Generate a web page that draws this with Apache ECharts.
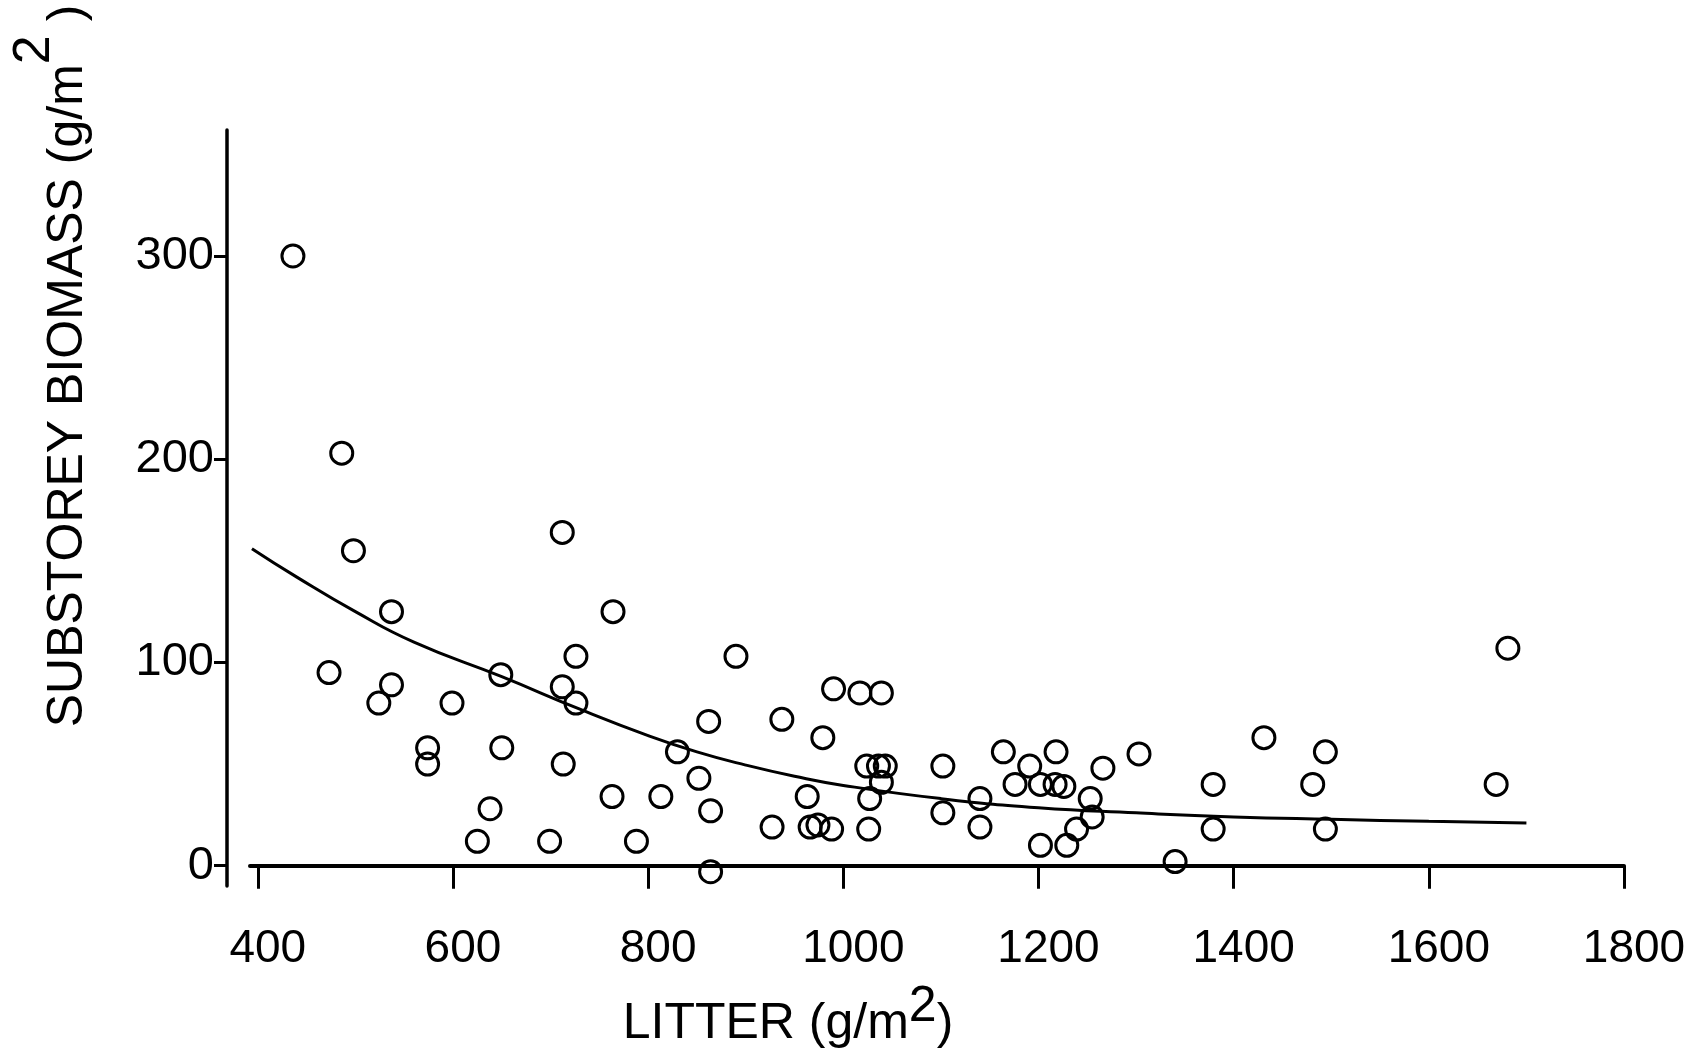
<!DOCTYPE html>
<html>
<head>
<meta charset="utf-8">
<title>Litter vs substorey biomass</title>
<script src="https://cdn.jsdelivr.net/npm/echarts/dist/echarts.min.js"></script>
<style>
  html, body { margin: 0; padding: 0; background: #fff; }
  #chart { width: 1692px; height: 1060px; }
</style>
</head>
<body>
<div id="chart"></div>
<script>
// litter (g/m2) and substorey biomass (g/m2)
const litter = [
  436, 486, 498, 712, 537, 764, 726, 473, 649, 537, 712, 890, 524, 599, 726,
  862, 830, 574, 574, 650, 713, 852, 763, 813, 864, 638, 625, 699, 788, 864,
  990, 1017, 1039, 937, 979, 1024, 1036, 1043, 1039, 1027, 963, 927, 966, 974,
  988, 1026, 1102, 1102, 1140, 1140, 1164, 1191, 1176, 1202, 1217, 1226, 1218,
  1266, 1303, 1253, 1255, 1239, 1202, 1229, 1340, 1379, 1379, 1431, 1494, 1481,
  1494, 1681, 1669
]
const biomass = [
  300, 203, 155, 164, 125, 125, 103, 95, 94, 89, 88, 103, 80, 80, 80,
  71, 56, 58, 50, 58, 50, 43, 34, 34, 27, 28, 12, 12, 12, -3,
  87, 85, 85, 72, 63, 49, 49, 49, 41, 33, 34, 19, 19, 20,
  18, 18, 49, 26, 33, 19, 56, 49, 40, 40, 40, 39, 56,
  48, 55, 33, 24, 18, 10, 10, 2, 40, 18, 63, 56, 40,
  18, 107, 40
]

// fitted curve
const fitLitter = [394, 440, 500, 560, 650, 730, 800, 850, 900, 950, 1000, 1100, 1200, 1300, 1400, 1500, 1600, 1700]
const fitBiomass = [156, 142, 125, 110, 93, 77, 64, 56, 49.5, 44, 39.5, 33, 28.5, 26, 24, 22.8, 21.8, 21]

const xTicks = [400, 600, 800, 1000, 1200, 1400, 1600, 1800]
const yTicks = [0, 100, 200, 300]

const font = 'Liberation Sans, Arial, sans-serif'

const chart = echarts.init(document.getElementById('chart'), null, { renderer: 'canvas' })

chart.setOption({
  backgroundColor: '#fff',
  animation: false,
  grid: {
    left: 250,
    right: 68,
    top: 130,
    bottom: 174
  },
  xAxis: {
    type: 'value',
    min: 392,
    max: 1800,
    axisLine: { lineStyle: { color: '#000', width: 4 } },
    axisTick: {
      customValues: xTicks,
      length: 23,
      lineStyle: { color: '#000', width: 3 }
    },
    axisLabel: {
      customValues: xTicks,
      formatter: (v) => String(v),
      margin: 40,
      padding: [0, 0, 0, 20],
      color: '#000',
      fontSize: 46,
      fontFamily: font
    },
    splitLine: { show: false }
  },
  yAxis: {
    type: 'value',
    min: -10,
    max: 362,
    offset: 23,
    axisLine: { show: true, lineStyle: { color: '#000', width: 3.5 } },
    axisTick: {
      show: true,
      customValues: yTicks,
      length: 13,
      lineStyle: { color: '#000', width: 3 }
    },
    axisLabel: {
      customValues: yTicks,
      formatter: (v) => String(v),
      margin: 13,
      color: '#000',
      fontSize: 47,
      fontFamily: font
    },
    splitLine: { show: false }
  },
  graphic: [
    {
      type: 'text',
      x: 68,
      y: 366,
      rotation: Math.PI / 2,
      silent: true,
      style: {
        text: 'SUBSTOREY BIOMASS (g/m{sup|2} )',
        fontSize: 50,
        fontFamily: font,
        fill: '#000',
        textAlign: 'center',
        textVerticalAlign: 'middle',
        rich: {
          sup: { fontSize: 52, fontFamily: font, fill: '#000', padding: [0, 0, 66, 0] }
        }
      }
    },
    {
      type: 'text',
      x: 788,
      y: 1024,
      silent: true,
      style: {
        text: 'LITTER (g/m{sup|2})',
        fontSize: 50,
        fontFamily: font,
        fill: '#000',
        textAlign: 'center',
        textVerticalAlign: 'middle',
        rich: {
          sup: { fontSize: 50, fontFamily: font, fill: '#000', padding: [0, 0, 34, 0] }
        }
      }
    }
  ],
  series: [
    {
      name: 'fit',
      type: 'line',
      data: fitLitter.map((x, i) => [x, fitBiomass[i]]),
      smooth: 0.5,
      showSymbol: false,
      silent: true,
      lineStyle: { color: '#000', width: 3 },
      z: 2
    },
    {
      name: 'plots',
      type: 'scatter',
      data: litter.map((x, i) => [x, biomass[i]]),
      symbol: 'circle',
      symbolSize: 22,
      silent: true,
      itemStyle: {
        color: 'rgba(0,0,0,0)',
        borderColor: '#000',
        borderWidth: 3,
        opacity: 1
      },
      z: 3
    }
  ]
})
</script>
</body>
</html>
